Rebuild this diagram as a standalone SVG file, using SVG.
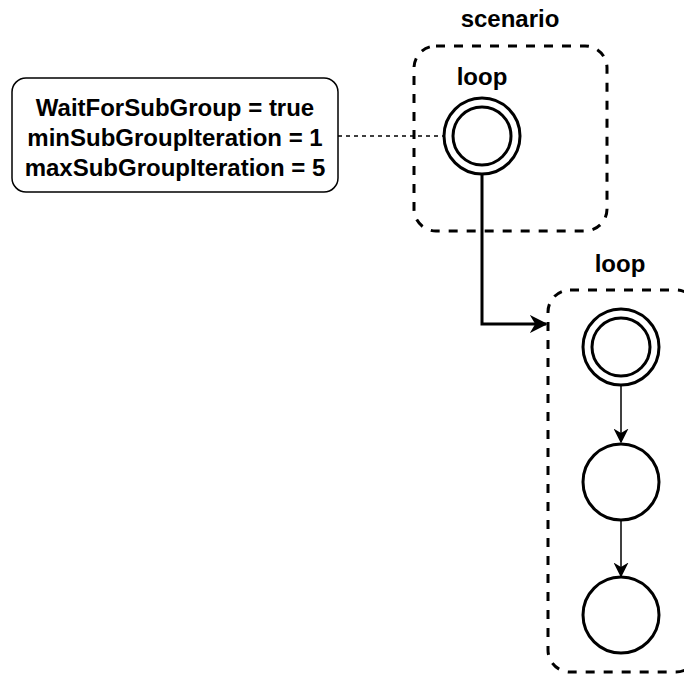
<svg xmlns="http://www.w3.org/2000/svg" width="684" height="675" viewBox="0 0 684 675">
<style>
.grp{fill:none;stroke:#000;stroke-width:3;stroke-dasharray:9 9}
.st{fill:#fff;stroke:#000;stroke-width:3}
.lbl{font-family:"Liberation Sans",Arial,sans-serif;font-weight:bold;font-size:24px;fill:#000;text-anchor:middle}
.thin{fill:none;stroke:#000;stroke-width:1.5}
</style>
<defs>
<marker id="ah" viewBox="0 0 10 10" refX="9" refY="5" markerWidth="6" markerHeight="6" orient="auto" markerUnits="strokeWidth">
<path d="M0,0 L10,5 L0,10 L3,5 Z" fill="#000"/>
</marker>
<marker id="ah2" viewBox="0 0 10 10" refX="9" refY="5" markerWidth="10" markerHeight="10" orient="auto" markerUnits="strokeWidth">
<path d="M0,0 L10,5 L0,10 L3,5 Z" fill="#000"/>
</marker>
</defs>
<rect width="684" height="675" fill="#fff"/>
<g id="scenario">
<rect class="grp" x="414" y="46" width="193" height="185" rx="22"/>
<text class="lbl" x="510" y="27">scenario</text>
<text class="lbl" x="482" y="85">loop</text>
</g>
<g id="loop2">
<rect class="grp" x="548" y="290" width="150" height="382" rx="22"/>
<text class="lbl" x="620" y="272">loop</text>
</g>
<g id="params">
<rect x="12" y="78" width="326" height="114" rx="14" fill="#fff" stroke="#000" stroke-width="1.5"/>
<text class="lbl" x="175" y="116" font-size="23">WaitForSubGroup = true</text>
<text class="lbl" x="175" y="146" font-size="23">minSubGroupIteration = 1</text>
<text class="lbl" x="175" y="176" font-size="23">maxSubGroupIteration = 5</text>
</g>
<g id="connectors">
<path d="M338,136 H443" fill="none" stroke="#000" stroke-width="1.5" stroke-dasharray="4 4"/>
<path d="M482,174 V324 H546" fill="none" stroke="#000" stroke-width="3" marker-end="url(#ah)"/>
<path class="thin" d="M621,386 V442" marker-end="url(#ah2)"/>
<path class="thin" d="M621,520 V576" marker-end="url(#ah2)"/>
</g>
<g id="n1">
<circle class="st" cx="482" cy="136" r="38"/>
<circle class="st" cx="482" cy="136" r="29"/>
</g>
<g id="n2">
<circle class="st" cx="621" cy="347" r="38"/>
<circle class="st" cx="621" cy="347" r="29"/>
</g>
<g id="n3">
<circle class="st" cx="621" cy="482" r="38"/>
</g>
<g id="n4">
<circle class="st" cx="621" cy="615" r="38"/>
</g>
</svg>
